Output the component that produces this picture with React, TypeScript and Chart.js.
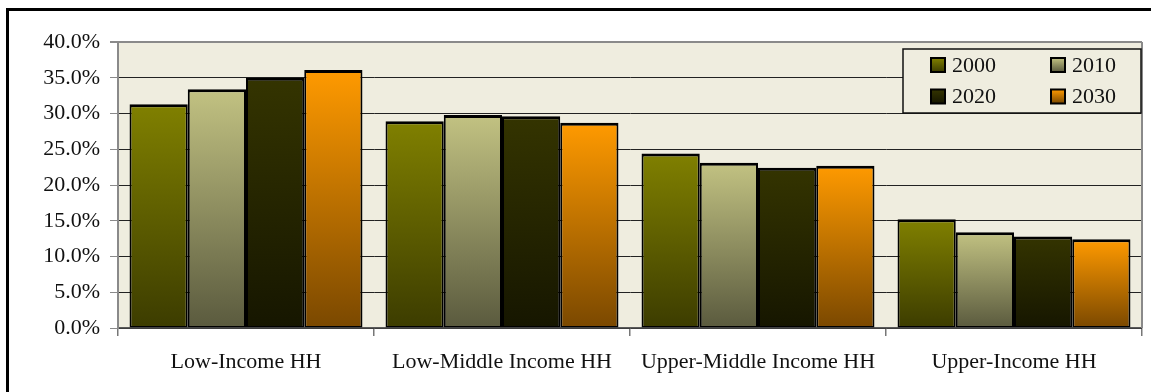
import React, { useEffect, useRef } from 'react';
import { Chart, registerables } from 'chart.js';

Chart.register(...registerables);

// Household share by income group, projected per decade
const categories = ['Low-Income HH', 'Low-Middle Income HH', 'Upper-Middle Income HH', 'Upper-Income HH'];
const seriesLabels = ['2000', '2010', '2020', '2030'];
const values2000 = [31.3, 28.9, 24.4, 15.2];
const values2010 = [33.4, 29.8, 23.1, 13.4];
const values2020 = [35.0, 29.6, 22.4, 12.8];
const values2030 = [36.1, 28.7, 22.7, 12.4];
const yMin = 0;
const yMax = 40;
const yStep = 5;

// top / bottom colours of each series' vertical gradient
const seriesGradients: [string, string][] = [
  ['#808000', '#3c3c00'],
  ['#c2c282', '#5a5a3e'],
  ['#343400', '#161600'],
  ['#ff9a00', '#7a4800'],
];

const FONT = '"Liberation Serif", "Times New Roman", serif';
const PLOT_BG = '#efeddf';

function barGradient(seriesIndex: number) {
  return (ctx: any) => {
    const chart = ctx.chart;
    const [top, bottom] = seriesGradients[seriesIndex];
    if (!chart.chartArea || ctx.raw === undefined) return top;
    const y = chart.scales.y;
    const y0 = y.getPixelForValue(ctx.raw);
    const y1 = y.getPixelForValue(0);
    if (!isFinite(y0) || !isFinite(y1) || y0 === y1) return top;
    const g = chart.ctx.createLinearGradient(0, y0, 0, y1);
    g.addColorStop(0, top);
    g.addColorStop(1, bottom);
    return g;
  };
}

const plotBackground = {
  id: 'plotBackground',
  beforeDraw(chart: any) {
    const { ctx, chartArea } = chart;
    if (!chartArea) return;
    ctx.save();
    ctx.fillStyle = PLOT_BG;
    ctx.fillRect(chartArea.left, chartArea.top, chartArea.right - chartArea.left, chartArea.bottom - chartArea.top);
    ctx.restore();
  },
  afterDatasetsDraw(chart: any) {
    const { ctx, chartArea } = chart;
    ctx.save();
    ctx.strokeStyle = '#8a8a8a';
    ctx.lineWidth = 2;
    ctx.beginPath();
    ctx.moveTo(chartArea.right, chartArea.top);
    ctx.lineTo(chartArea.right, chartArea.bottom);
    ctx.stroke();
    ctx.restore();
  },
};

// two-column legend box in the upper right of the plot
const boxLegend = {
  id: 'boxLegend',
  afterDraw(chart: any) {
    const { ctx, chartArea } = chart;
    const w = 238;
    const h = 64;
    const right = chartArea.right - 1;
    const left = right - w;
    const top = chartArea.top + 7;
    ctx.save();
    ctx.fillStyle = PLOT_BG;
    ctx.fillRect(left, top, w, h);
    ctx.strokeStyle = '#111';
    ctx.lineWidth = 1.5;
    ctx.strokeRect(left, top, w, h);

    const colX = [28, 148];
    const rowY = [16, 47.5];
    ctx.font = `22px ${FONT}`;
    ctx.textBaseline = 'middle';
    ctx.textAlign = 'left';
    seriesLabels.forEach((label, i) => {
      const mx = left + colX[i % 2];
      const cy = top + rowY[Math.floor(i / 2)];
      const my = cy - 7;
      const g = ctx.createLinearGradient(0, my, 0, my + 14);
      g.addColorStop(0, seriesGradients[i][0]);
      g.addColorStop(1, seriesGradients[i][1]);
      ctx.fillStyle = g;
      ctx.fillRect(mx, my, 14, 14);
      ctx.strokeStyle = '#000';
      ctx.lineWidth = 2;
      ctx.strokeRect(mx, my, 14, 14);
      ctx.fillStyle = '#111';
      ctx.fillText(label, mx + 21, cy + 1);
    });
    ctx.restore();
  },
};

export default function App() {
  const canvasRef = useRef<HTMLCanvasElement | null>(null);

  useEffect(() => {
    if (!canvasRef.current) return;
    const seriesValues = [values2000, values2010, values2020, values2030];
    const chart = new Chart(canvasRef.current, {
      type: 'bar',
      data: {
        labels: categories,
        datasets: seriesLabels.map((label, i) => ({
          label,
          data: seriesValues[i],
          backgroundColor: barGradient(i),
          borderColor: '#000',
          borderWidth: { top: 3, left: 2, right: 2, bottom: 1.5 },
          borderSkipped: false,
          categoryPercentage: 0.91,
          barPercentage: 1.0,
        })),
      },
      options: {
        animation: false,
        responsive: true,
        maintainAspectRatio: false,
        layout: { padding: { left: 0, right: 9, top: 42, bottom: 0 } },
        plugins: {
          legend: { display: false },
          tooltip: { enabled: false },
        },
        scales: {
          x: {
            grid: {
              display: true,
              offset: true,
              drawOnChartArea: false,
              color: '#777',
              tickLength: 8,
              lineWidth: 1.5,
            },
            border: { color: '#5a5a5a', width: 1.5 },
            ticks: {
              color: '#111',
              font: { family: FONT, size: 22 },
              padding: 13,
              maxRotation: 0,
            },
            afterFit(scale: any) {
              scale.height = 64;
            },
          },
          y: {
            min: yMin,
            max: yMax,
            grid: {
              color: (c: any) => (c.tick && c.tick.value === yMax ? '#8a8a8a' : '#222'),
              lineWidth: (c: any) => (c.tick && c.tick.value === yMax ? 2 : 1),
              tickColor: '#8a8a8a',
              tickLength: 8,
            },
            border: { color: '#8a8a8a', width: 2 },
            ticks: {
              stepSize: yStep,
              color: '#111',
              font: { family: FONT, size: 22 },
              padding: 10,
              callback: (v: any) => Number(v).toFixed(1) + '%',
            },
            afterFit(scale: any) {
              scale.width = 118;
            },
          },
        },
      },
      plugins: [plotBackground, boxLegend],
    });
    return () => chart.destroy();
  }, []);

  return (
    <div style={{ position: 'absolute', left: 0, top: 0, width: 1151, height: 392, overflow: 'hidden', background: '#fff' }}>
      <div
        style={{
          position: 'absolute',
          left: 6,
          top: 8,
          width: 1170,
          height: 410,
          border: '3px solid #000',
          boxSizing: 'border-box',
        }}
      />
      <div style={{ position: 'absolute', left: 0, top: 0, width: 1151, height: 392 }}>
        <canvas ref={canvasRef} />
      </div>
    </div>
  );
}
